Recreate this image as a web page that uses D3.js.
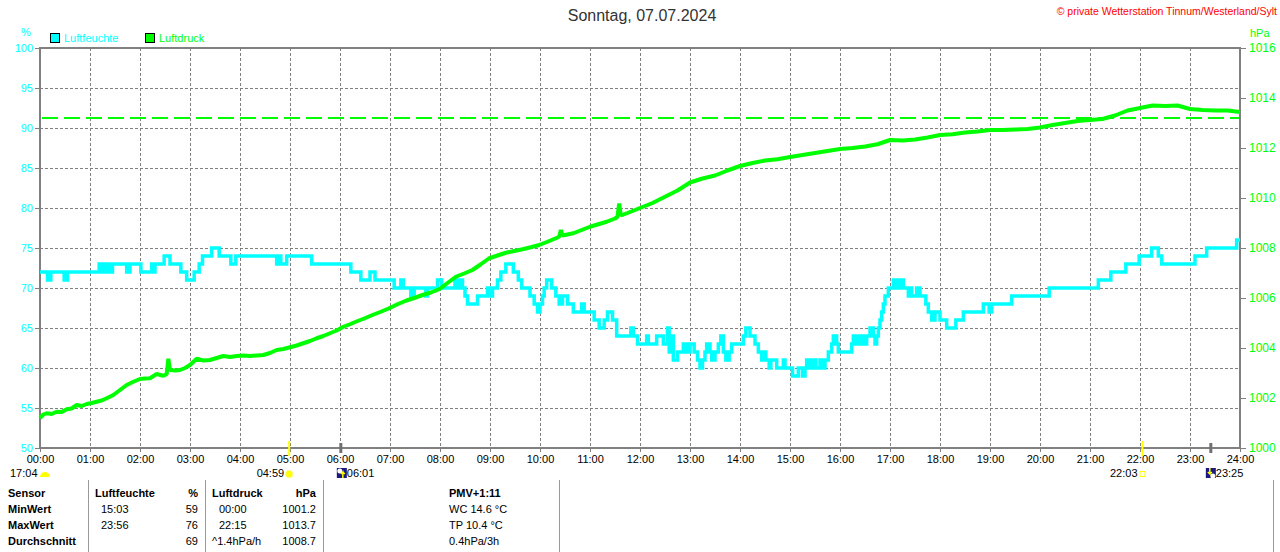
<!DOCTYPE html>
<html>
<head>
<meta charset="utf-8">
<script src="https://cdn.jsdelivr.net/npm/d3@7"></script>
<style>
  body { margin: 0; background: #fff; }
  svg { display: block; font-family: "Liberation Sans", Arial, sans-serif; }
</style>
</head>
<body>
<svg id="chart" width="1280" height="552"></svg>
<script>
// Luftfeuchte (%), step values: time of change and new value
var humTimes = ["00:00","00:09","00:13","00:29","00:33","01:11","01:14","01:16","01:18","01:20","01:24","01:27","01:44","01:48","02:01","02:14","02:16","02:18","02:29","02:36","02:49","02:56","03:05","03:11","03:15","03:26","03:35","03:49","03:55","04:44","04:47","04:49","04:56","05:26","06:13","06:25","06:36","06:42","07:05","07:13","07:16","07:25","07:29","07:43","07:45","07:57","08:02","08:18","08:21","08:24","08:27","08:30","08:33","08:45","08:57","08:59","09:03","09:09","09:13","09:19","09:28","09:34","09:38","09:48","09:53","09:57","10:00","10:03","10:05","10:08","10:14","10:19","10:23","10:27","10:33","10:40","10:50","10:53","11:05","11:11","11:17","11:21","11:27","11:32","11:49","11:52","11:57","12:08","12:10","12:20","12:28","12:33","12:35","12:37","12:40","12:45","12:52","12:56","13:00","13:05","13:09","13:12","13:15","13:18","13:20","13:24","13:26","13:30","13:34","13:37","13:40","13:43","13:47","13:50","14:04","14:07","14:12","14:18","14:22","14:26","14:28","14:31","14:35","14:37","14:44","14:52","14:54","15:03","15:10","15:15","15:18","15:20","15:24","15:27","15:31","15:36","15:39","15:42","15:46","15:50","15:52","15:56","15:58","16:14","16:16","16:20","16:24","16:28","16:32","16:36","16:40","16:42","16:44","16:46","16:48","16:50","16:52","16:54","16:58","17:04","17:08","17:12","17:16","17:22","17:24","17:26","17:32","17:36","17:43","17:46","17:50","17:54","18:00","18:08","18:19","18:28","18:52","18:59","19:02","19:26","20:11","21:10","21:25","21:43","21:59","22:14","22:22","22:26","23:06","23:20","23:56","24:00"];
var humValues = [72,71,72,71,72,73,72,73,72,73,72,73,72,73,72,73,72,73,74,73,72,71,72,73,74,75,74,73,74,73,74,73,74,73,72,71,72,71,70,71,70,69,70,69,70,71,70,71,70,71,70,69,68,69,70,69,70,71,72,73,72,71,70,69,68,67,68,69,70,71,70,69,68,69,68,67,68,67,66,65,66,67,66,64,65,64,63,64,63,64,63,65,62,64,61,62,63,62,63,62,61,60,61,62,63,62,61,62,63,64,62,61,62,63,64,65,64,63,62,61,62,61,60,61,60,61,60,59,60,59,60,61,60,61,60,61,60,61,62,63,64,63,62,63,64,63,64,63,64,65,64,63,64,65,66,67,68,69,70,71,70,71,70,69,70,69,70,69,68,67,66,67,66,65,66,67,68,67,68,69,70,71,72,73,74,75,74,73,74,75,76,76];

// Luftdruck (hPa)
var pressTimes = ["00:00","00:04","00:08","00:14","00:20","00:26","00:32","00:38","00:44","00:50","00:56","01:02","01:08","01:14","01:20","01:28","01:36","01:44","01:52","02:00","02:06","02:12","02:20","02:28","02:32","02:34","02:36","02:42","02:48","02:54","03:00","03:08","03:16","03:24","03:32","03:40","03:48","03:56","04:04","04:12","04:20","04:28","04:36","04:44","04:52","05:00","05:08","05:16","05:24","05:32","05:40","05:48","05:56","06:04","06:12","06:19","06:29","06:39","06:49","06:59","07:09","07:19","07:29","07:39","07:49","07:59","08:09","08:19","08:29","08:39","08:49","08:59","09:09","09:19","09:29","09:39","09:49","09:59","10:09","10:19","10:23","10:25","10:27","10:40","10:50","11:00","11:10","11:20","11:30","11:33","11:35","11:37","11:45","12:00","12:15","12:30","12:45","13:00","13:15","13:30","13:45","14:00","14:15","14:30","14:45","15:00","15:15","15:30","15:45","16:00","16:15","16:30","16:45","17:00","17:15","17:30","17:45","18:00","18:15","18:30","18:45","19:00","19:15","19:30","19:45","20:00","20:15","20:30","20:45","21:00","21:15","21:30","21:45","22:00","22:15","22:30","22:45","23:00","23:15","23:30","23:45","24:00"];
var pressValues = [1001.2,1001.34,1001.39,1001.36,1001.45,1001.44,1001.55,1001.58,1001.72,1001.68,1001.76,1001.8,1001.85,1001.9,1001.99,1002.12,1002.32,1002.52,1002.65,1002.76,1002.78,1002.79,1002.96,1002.89,1002.95,1003.57,1003.12,1003.1,1003.12,1003.2,1003.32,1003.57,1003.5,1003.52,1003.6,1003.68,1003.64,1003.68,1003.7,1003.68,1003.7,1003.72,1003.8,1003.92,1003.96,1004.03,1004.1,1004.19,1004.28,1004.39,1004.48,1004.59,1004.7,1004.85,1004.95,1005.05,1005.18,1005.32,1005.45,1005.59,1005.75,1005.89,1006.0,1006.12,1006.22,1006.35,1006.6,1006.85,1006.98,1007.12,1007.35,1007.59,1007.7,1007.81,1007.88,1007.95,1008.03,1008.12,1008.25,1008.39,1008.45,1008.72,1008.5,1008.59,1008.72,1008.85,1008.95,1009.05,1009.18,1009.25,1009.78,1009.3,1009.4,1009.6,1009.8,1010.05,1010.3,1010.62,1010.78,1010.9,1011.1,1011.28,1011.4,1011.5,1011.55,1011.64,1011.72,1011.8,1011.88,1011.96,1012.0,1012.06,1012.15,1012.32,1012.3,1012.34,1012.42,1012.52,1012.55,1012.62,1012.66,1012.72,1012.72,1012.74,1012.76,1012.82,1012.92,1013.0,1013.08,1013.12,1013.16,1013.3,1013.5,1013.6,1013.7,1013.68,1013.7,1013.56,1013.52,1013.5,1013.5,1013.44];

var refPressure = 1013.2;
var hourLabels = d3.range(0, 25).map(h => (h < 10 ? "0" : "") + h + ":00");
var humTicks = d3.range(50, 101, 5);
var pressTicks = d3.range(1000, 1017, 2);

// Sun/Moon events
var sunEvents = [{ time: "04:59", label: "04:59" }, { time: "22:03", label: "22:03" }];
var moonEvents = [{ time: "06:01", label: "06:01" }, { time: "23:25", label: "23:25" }];

// Table
var tableRows = ["Sensor", "MinWert", "MaxWert", "Durchschnitt"];
var humTableTimes = ["Luftfeuchte", "15:03", "23:56", ""];
var humTableValues = ["%", "59", "76", "69"];
var pressTableTimes = ["Luftdruck", "00:00", "22:15", "^1.4hPa/h"];
var pressTableValues = ["hPa", "1001.2", "1013.7", "1008.7"];
var extraLines = ["PMV+1:11", "WC 14.6 °C", "TP 10.4 °C", "0.4hPa/3h"];

function toHours(t) {
  var p = t.split(":");
  return +p[0] + (+p[1]) / 60;
}

var svg = d3.select("#chart");
var cyan = "#00ffff", green = "#00ff00", gray = "#808080";

var x = d3.scaleLinear().domain([0, 24]).range([40, 1240]);
var yH = d3.scaleLinear().domain([50, 100]).range([448, 48]);
var yP = d3.scaleLinear().domain([1000, 1016]).range([448, 48]);

// title and copyright
svg.append("text").attr("x", 642).attr("y", 21).attr("text-anchor", "middle")
  .attr("font-size", 16).attr("fill", "#333").text("Sonntag, 07.07.2024");
svg.append("text").attr("x", 1277).attr("y", 15).attr("text-anchor", "end")
  .attr("font-size", 10.5).attr("fill", "#ff0000").text("© private Wetterstation Tinnum/Westerland/Sylt");

// unit labels
svg.append("text").attr("x", 26).attr("y", 36).attr("text-anchor", "middle")
  .attr("font-size", 11).attr("fill", cyan).text("%");
svg.append("text").attr("x", 1250).attr("y", 37).attr("font-size", 11).attr("fill", green).text("hPa");

// legend
var legend = [{ name: "Luftfeuchte", color: cyan, x: 50 }, { name: "Luftdruck", color: green, x: 145 }];
legend.forEach(function(d) {
  svg.append("rect").attr("x", d.x + 0.5).attr("y", 33.5).attr("width", 9).attr("height", 9)
    .attr("fill", d.color).attr("stroke", "#000");
  svg.append("text").attr("x", d.x + 14).attr("y", 42).attr("font-size", 11)
    .attr("fill", d.color).text(d.name);
});

// grid
var grid = svg.append("g").attr("stroke", gray).attr("stroke-dasharray", "3,2").attr("stroke-width", 1);
d3.range(1, 24).forEach(function(h) {
  grid.append("line").attr("x1", x(h) + 0.5).attr("x2", x(h) + 0.5).attr("y1", 48).attr("y2", 448);
});
humTicks.slice(1, -1).forEach(function(v) {
  grid.append("line").attr("x1", 40).attr("x2", 1240).attr("y1", yH(v) + 0.5).attr("y2", yH(v) + 0.5);
});

// reference pressure line
svg.append("line").attr("x1", 42).attr("x2", 1240).attr("y1", yP(refPressure)).attr("y2", yP(refPressure))
  .attr("stroke", green).attr("stroke-width", 2).attr("stroke-dasharray", "16,6");

// frame
svg.append("rect").attr("x", 40).attr("y", 48).attr("width", 1200).attr("height", 400)
  .attr("fill", "none").attr("stroke", gray).attr("stroke-width", 2);

// left axis
var leftAxis = svg.append("g").attr("transform", "translate(40,0)")
  .call(d3.axisLeft(yH).tickValues(humTicks).tickSize(5).tickPadding(2));
leftAxis.select(".domain").remove();
leftAxis.selectAll("line").attr("stroke", gray);
leftAxis.selectAll("text").attr("fill", cyan).attr("font-size", 11).attr("font-family", "Liberation Sans, Arial, sans-serif");

// right axis
var rightAxis = svg.append("g").attr("transform", "translate(1240,0)")
  .call(d3.axisRight(yP).tickValues(pressTicks).tickFormat(d3.format("d")).tickSize(6).tickPadding(3));
rightAxis.select(".domain").remove();
rightAxis.selectAll("line").attr("stroke", gray);
rightAxis.selectAll("text").attr("fill", green).attr("font-size", 12).attr("font-family", "Liberation Sans, Arial, sans-serif");

// bottom axis
var bottomAxis = svg.append("g").attr("transform", "translate(0,448)")
  .call(d3.axisBottom(x).tickValues(d3.range(0, 25)).tickFormat((d, i) => hourLabels[i]).tickSize(4).tickPadding(3));
bottomAxis.select(".domain").remove();
bottomAxis.selectAll("line").attr("stroke", gray);
bottomAxis.selectAll("text").attr("fill", "#000").attr("font-size", 11).attr("font-family", "Liberation Sans, Arial, sans-serif");

// humidity line (step)
var humData = humTimes.map((t, i) => ({ h: toHours(t), v: humValues[i] }));
svg.append("path").datum(humData)
  .attr("fill", "none").attr("stroke", cyan).attr("stroke-width", 3.5)
  .attr("d", d3.line().x(d => x(d.h)).y(d => yH(d.v)).curve(d3.curveStepAfter));

// pressure line
var pressData = pressTimes.map((t, i) => ({ h: toHours(t), v: pressValues[i] }));
svg.append("path").datum(pressData)
  .attr("fill", "none").attr("stroke", green).attr("stroke-width", 4).attr("stroke-linejoin", "bevel")
  .attr("d", d3.line().x(d => x(d.h)).y(d => yP(d.v)));

// sun events
sunEvents.forEach(function(d, i) {
  var px = x(toHours(d.time));
  svg.append("line").attr("x1", px).attr("x2", px).attr("y1", 441).attr("y2", 456)
    .attr("stroke", "#ffff00").attr("stroke-width", 2);
  svg.append("text").attr("x", px - 5).attr("y", 477).attr("text-anchor", "end")
    .attr("font-size", 11).attr("fill", "#000").text(d.label);
  if (i === 0) {
    svg.append("circle").attr("cx", px).attr("cy", 474).attr("r", 3.5).attr("fill", "#ffff00")
      .attr("stroke", "#ffee66").attr("stroke-width", 1.5).attr("stroke-dasharray", "1,1");
  } else {
    svg.append("rect").attr("x", px - 2.5).attr("y", 471.5).attr("width", 5).attr("height", 5)
      .attr("fill", "none").attr("stroke", "#ffff00");
  }
});

// moon events
moonEvents.forEach(function(d, i) {
  var px = x(toHours(d.time));
  svg.append("line").attr("x1", px).attr("x2", px).attr("y1", 443).attr("y2", 453)
    .attr("stroke", "#707070").attr("stroke-width", 3);
  var bx = i === 0 ? px - 4 : px - 5;
  svg.append("rect").attr("x", bx).attr("y", 468).attr("width", 10).attr("height", 10).attr("fill", "#1a1a80");
  svg.append("circle").attr("cx", i === 0 ? bx + 3 : bx + 7).attr("cy", i === 0 ? 471 : 476).attr("r", 2.5).attr("fill", "#fff");
  svg.append("path").attr("d", i === 0
      ? `M${bx + 6},${478} L${bx + 6},${472} L${bx + 4},${474} M${bx + 6},${472} L${bx + 8},${474}`
      : `M${bx + 4},${468} L${bx + 4},${474} L${bx + 2},${472} M${bx + 4},${474} L${bx + 6},${472}`)
    .attr("stroke", "#ffff00").attr("stroke-width", 1.5).attr("fill", "none");
  svg.append("text").attr("x", bx + 10).attr("y", 477).attr("font-size", 11).attr("fill", "#000").text(d.label);
});

// 17:04 with small sun/cloud
svg.append("text").attr("x", 10).attr("y", 477).attr("font-size", 11).attr("fill", "#000").text("17:04");
svg.append("path").attr("d", d3.arc()({ innerRadius: 0, outerRadius: 5, startAngle: -Math.PI / 2, endAngle: Math.PI / 2 }))
  .attr("transform", "translate(45,477)").attr("fill", "#ffff00");

// table separators
[88, 205, 323, 559, 1273].forEach(function(sx) {
  svg.append("line").attr("x1", sx + 0.5).attr("x2", sx + 0.5).attr("y1", 480).attr("y2", 552)
    .attr("stroke", "#999").attr("stroke-width", 1);
});

// table text
var rowY = [497, 513, 529, 545];
function col(arr, xpos, anchor, boldFirst, allBold) {
  arr.forEach(function(t, i) {
    svg.append("text").attr("x", xpos).attr("y", rowY[i]).attr("text-anchor", anchor)
      .attr("font-size", 11).attr("font-weight", (allBold || (boldFirst && i === 0)) ? "bold" : "normal")
      .attr("fill", "#000").text(t);
  });
}
col(tableRows, 8, "start", true, true);
col(humTableTimes.slice(0, 1), 95, "start", true);
col(["", humTableTimes[1], humTableTimes[2], humTableTimes[3]], 101, "start", false);
col(humTableValues, 198, "end", true);
col(pressTableTimes.slice(0, 1), 212, "start", true);
col(["", pressTableTimes[1], pressTableTimes[2]], 219, "start", false);
col(["", "", "", pressTableTimes[3]], 212, "start", false);
col(pressTableValues, 316, "end", true);
col(extraLines, 449, "start", true);
</script>
</body>
</html>
